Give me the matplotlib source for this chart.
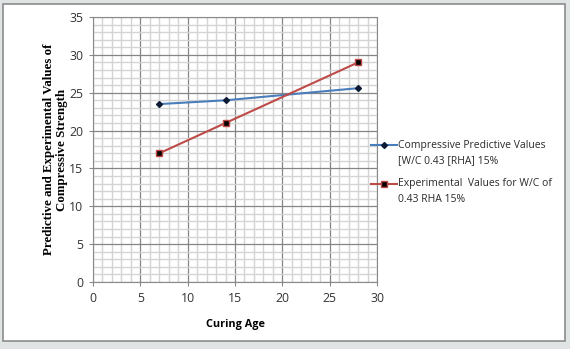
import matplotlib.pyplot as plt
from matplotlib.lines import Line2D
from matplotlib.patches import Rectangle
from matplotlib.ticker import MultipleLocator

# curing age (days) and strength values
age = [7, 14, 28]
predicted = [23.5, 24.0, 25.6]
experimental = [17.0, 21.0, 29.0]

pred_lines = ["Compressive Predictive Values", "[W/C 0.43 [RHA] 15%"]
exp_lines = ["Experimental  Values for W/C of", "0.43 RHA 15%"]

W, H = 570, 349
fig = plt.figure(figsize=(W / 100, H / 100), dpi=100)
fig.patch.set_facecolor("#e1e4e4")


def px(x, y):
    # pixel position (from top left) to figure fraction
    return x / W, 1 - y / H


# white panel with a thin grey frame
fig.patches.append(Rectangle(px(3, 341), 562 / W, 337 / H,
                             transform=fig.transFigure, facecolor="white",
                             edgecolor="#8c8c8c", linewidth=1.2, zorder=-5))

ax = fig.add_axes([93 / W, 1 - 282 / H, 284 / W, 265 / H])
ax.set_zorder(2)
ax.set_xlim(0, 30)
ax.set_ylim(0, 35)
ax.xaxis.set_major_locator(MultipleLocator(5))
ax.yaxis.set_major_locator(MultipleLocator(5))
ax.xaxis.set_minor_locator(MultipleLocator(1))
ax.yaxis.set_minor_locator(MultipleLocator(1))
ax.grid(which="minor", color="#d4d4d4", linewidth=1.0)
ax.grid(which="major", color="#858585", linewidth=0.9)
ax.set_axisbelow(True)
ax.tick_params(which="minor", length=0)
ax.tick_params(which="major", length=3, color="#888888", labelsize=8.8,
               labelcolor="#333333", pad=4)
for s in ax.spines.values():
    s.set_color("#8a8a8a")
    s.set_linewidth(0.8)
for lbl in ax.get_xticklabels() + ax.get_yticklabels():
    lbl.set_family("Open Sans")

pred_style = dict(color="#4a7ebb", linewidth=1.5, marker="D", markersize=3,
                  markerfacecolor="#0d1a33", markeredgecolor="#0d1a33")
exp_style = dict(color="#be4b48", linewidth=1.5, marker="s", markersize=5,
                 markerfacecolor="black", markeredgecolor="#be4b48")

ax.plot(age, predicted, **pred_style)
ax.plot(age, experimental, **exp_style)

ax.set_xlabel("Curing Age", family="Open Sans", fontsize=7.8,
              fontweight="bold", labelpad=10)
ax.set_ylabel("Predictive and Experimental Values of\nCompressive Strength",
              family="Liberation Serif", fontsize=9.3, fontweight="bold",
              labelpad=1, linespacing=1.05)

# legend: handle sits on the first text line of each entry
for y0, style, lines in [(145, pred_style, pred_lines),
                         (184, exp_style, exp_lines)]:
    x0, y = px(371, y0)
    x1, _ = px(397, y0)
    fig.add_artist(Line2D([x0, x1], [y, y], transform=fig.transFigure,
                          zorder=5, **{**style, "marker": None}))
    fig.add_artist(Line2D([(x0 + x1) / 2], [y], transform=fig.transFigure,
                          zorder=6, **{**style, "linestyle": "none"}))
    for k, txt in enumerate(lines):
        fig.text(*px(398, y0 + 16 * k), txt, family="Open Sans", fontsize=7.5,
                 color="#2a2a2a", va="center", ha="left", zorder=5)

fig.savefig("out.png", dpi=100, facecolor=fig.get_facecolor())
